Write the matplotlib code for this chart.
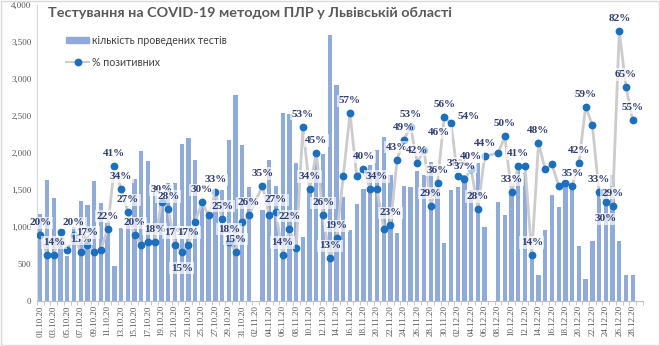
import matplotlib
matplotlib.use("Agg")
from matplotlib import pyplot as plt
from matplotlib.patches import Rectangle
from matplotlib.lines import Line2D
import numpy as np
import pandas as pd

# categories: one per day, 01.10.20 .. 29.12.20
dates = pd.date_range("2020-10-01", "2020-12-29", freq="D")
date_labels = [d.strftime("%d.%m.%y") for d in dates]

# number of PCR tests per day (None = no data)
tests = [1170, 1640, 1390, 950, 610, 1000, 1350, 1300, 1620, 1320,
         1050, 470, 990, 1100, 1650, 2020, 1890, 1550, 1300, 1600,
         1600, 2120, 2200, 1900, 1350, 1200, 1450, 1500, 2175, 2780,
         2110, 1545, None, 1230, 1905, 1555, 2545, 2520, 1860, 870,
         1520, 1930, 1980, 3595, 2920, 1410, 960, 1310, 1510, 1840,
         2040, 2210, 1700, 915, 1555, 1545, 1750, 1700, 1880, 1545,
         780, 1500, 1545, 1700, 1500, 1860, 1005, None, 1340, 1160,
         1480, 1815, 1725, 650, 350, 960, 1430, 1275, 1590, 1600,
         745, 295, 815, 1460, 1500, 1700, 815, 350, 350, None]

# share of positive tests, %
positive = [20, 14, 14, 21, 15.5, 20, 15, 17, 15, 15.5,
            22, 41, 34, 27, 20, 17, 18, 18, 30, 28,
            17, 15, 17, 24, 30, 26, 33, 25, 18, 15,
            24, 26, None, 35, 26, 27, 14, 22, 16, 53,
            34, 45, 26, 13, 19, 38, 57, 38, 40, 34,
            34, 22, 23, 43, 49, 53, 42, 46, 29, 36,
            56, 54, 38, 37, 40, 28, 44, None, 45, 50,
            33, 41, 41, 14, 48, 40, 41.5, 35, 36, 35,
            42, 59, 53.5, 33, 30, 29, 82, 65, 55, None]

# which points carry a data label
labelled = [0, 2, 5, 6, 7, 10, 11, 12, 13, 14, 17, 18, 19, 20, 21, 22, 24, 26, 27,
            28, 29, 31, 33, 35, 36, 37, 39, 40, 41, 42, 43, 44, 46, 48, 50, 52,
            53, 54, 55, 56, 57, 58, 59, 60, 61, 62, 63, 64, 65, 66, 69, 70, 71, 73,
            74, 79, 80, 81, 83, 84, 85, 86, 87, 88]
# label offsets in points (default: centred above the dot)
label_shift = {21: (0, -12), 84: (0, -12), 57: (11, 12), 61: (13, 5)}

x = np.arange(len(dates))
t = np.array([np.nan if v is None else v for v in tests], dtype=float)
p = np.array([np.nan if v is None else v for v in positive], dtype=float)

fig = plt.figure(figsize=(6.6, 3.46), dpi=100)
ax = fig.add_axes([0.056, 0.130, 0.918, 0.856])
ax2 = ax.twinx()

ax.bar(x, np.nan_to_num(t), width=0.64, color="#8faadc", zorder=2)
ax.set_xlim(-0.5, len(dates) - 0.5)
ax.set_ylim(0, 4000)
ax.set_yticks(np.arange(0, 4001, 500))
ax.set_yticklabels([f"{v:,}" for v in range(0, 4001, 500)],
                   fontfamily="Liberation Serif", fontsize=6.5, color="#595959")
ax.set_xticks(x[::2])
ax.set_xticklabels(date_labels[::2], rotation=90, fontfamily="Liberation Serif",
                   fontsize=6.5, color="#595959")
ax.set_xticks(np.arange(-0.5, len(dates), 1), minor=True)
ax.tick_params(axis="x", which="major", length=0, pad=3)
ax.tick_params(axis="x", which="minor", length=3, color="#bfbfbf")
ax.tick_params(axis="y", length=0, pad=4)
for s in ["top", "right"]:
    ax.spines[s].set_visible(False)
ax.spines["left"].set_color("#d9d9d9")
ax.spines["bottom"].set_color("#bfbfbf")

ok = ~np.isnan(p)
ax2.plot(x[ok], p[ok], color="#cccccc", lw=2, zorder=3)
ax2.plot(x[ok], p[ok], "o", color="#1a6fc0", ms=4.6, zorder=4)
ax2.set_ylim(0, 90)
ax2.set_yticks([])
for s in ax2.spines.values():
    s.set_visible(False)

for i in labelled:
    dx, dy = label_shift.get(i, (0, 9))
    ax2.annotate(f"{positive[i]:.0f}%", (x[i], p[i]), xytext=(dx, dy),
                 textcoords="offset points", ha="center", va="center",
                 fontfamily="Liberation Serif", fontweight="bold", fontsize=8,
                 color="#2f3b73", zorder=5,
                 bbox=dict(boxstyle="square,pad=0.15", fc="white", ec="none", alpha=0.65))

fig.text(0.073, 0.962, "Тестування на COVID-19 методом ПЛР у Львівській області",
         fontfamily="Lato", fontweight="bold", fontsize=10.4, color="#595959",
         va="center")

handles = [Rectangle((0, 0), 1, 1, color="#8faadc"),
           Line2D([0], [0], color="#cccccc", lw=1.5, marker="o", ms=4.6,
                  markerfacecolor="#1a6fc0", markeredgecolor="#1a6fc0")]
leg = fig.legend(handles, ["кількість проведених тестів", "% позитивних"],
                 loc="upper left", bbox_to_anchor=(0.092, 0.915),
                 frameon=False, prop={"family": "Lato", "size": 7.6},
                 handlelength=2.2, handleheight=0.6, handletextpad=0.3,
                 labelspacing=1.05, labelcolor="#404040", borderpad=0)
leg.set_zorder(6)

fig.patches.append(Rectangle((0.001, 0.002), 0.997, 0.995, transform=fig.transFigure,
                             fill=False, ec="#d9d9d9", lw=1))

fig.savefig("out.png", dpi=100)
